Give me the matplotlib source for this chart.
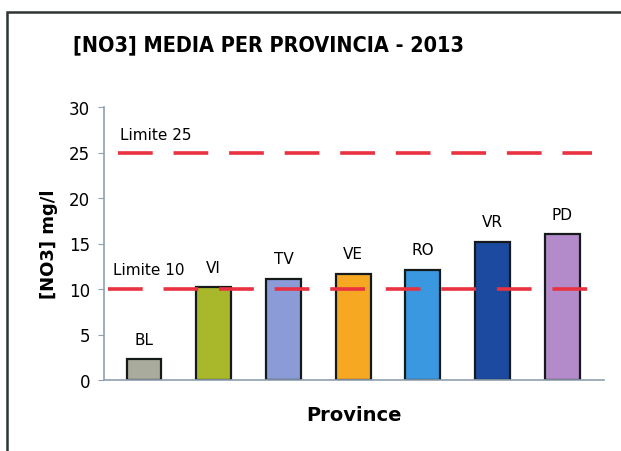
import matplotlib
matplotlib.use("Agg")
import matplotlib.pyplot as plt
from matplotlib.patches import Rectangle

plt.rcParams['font.family'] = ['DejaVu Sans']
plt.rcParams['lines.scale_dashes'] = False

# dati
province = ['BL', 'VI', 'TV', 'VE', 'RO', 'VR', 'PD']
no3 = [2.3, 10.2, 11.1, 11.7, 12.1, 15.2, 16.0]
colori = ['#a9ab9c', '#a8b82a', '#8a9bd8', '#f7a823', '#3a98e0', '#1c4aa0', '#b38bca']
limiti = [10, 25]
etichette_limiti = ['Limite 10', 'Limite 25']

fig = plt.figure(figsize=(6.21, 4.52), dpi=100)
fig.patch.set_facecolor('white')

# cornice del grafico
fig.patches.append(Rectangle((7 / 621, -0.05), 1.1, 1 - 13 / 452 + 0.05,
                             transform=fig.transFigure, fill=False,
                             edgecolor='#2e3434', linewidth=1.8))

ax = fig.add_axes([104 / 621, 1 - 381 / 452, 500 / 621, 273 / 452])

x = range(len(province))
ax.bar(x, no3, width=0.5, color=colori, edgecolor='#151a1a', linewidth=1.6, zorder=2)

for xi, v, p in zip(x, no3, province):
    ax.annotate(p, (xi, v), xytext=(0, 9), textcoords='offset points',
                ha='center', va='bottom', fontsize=11)

# linee limite
ax.plot([-0.37, 6.43], [limiti[1], limiti[1]], color='#e8323f', linewidth=2.6,
        dashes=(25, 15), zorder=3)
ax.plot([-0.52, 6.43], [limiti[0], limiti[0]], color='#e8323f', linewidth=2.6,
        dashes=(25, 15), zorder=3)
ax.text(-0.35, 26.2, etichette_limiti[1], fontsize=11, ha='left', va='bottom')
ax.text(-0.45, 11.3, etichette_limiti[0], fontsize=11, ha='left', va='bottom')

ax.set_xlim(-0.574, 6.6)
ax.set_ylim(0, 30)
ax.set_yticks(range(0, 31, 5))
ax.set_xticks([])
ax.tick_params(axis='y', labelsize=12, length=4, color='#8fa0b0', pad=6)
for s in ['top', 'right']:
    ax.spines[s].set_visible(False)
for s in ['left', 'bottom']:
    ax.spines[s].set_color('#8fa0b0')
    ax.spines[s].set_linewidth(1.2)

ax.set_ylabel('[NO3] mg/l', fontsize=13, fontweight='bold', labelpad=8)
ax.set_xlabel('Province', fontsize=14, fontweight='bold', labelpad=18)

fig.text(0.432, 1 - 45 / 452, '[NO3] MEDIA PER PROVINCIA - 2013', ha='center', va='center',
         fontsize=15.5, fontweight='bold', fontstretch='condensed')

fig.savefig('out.png', dpi=100)
